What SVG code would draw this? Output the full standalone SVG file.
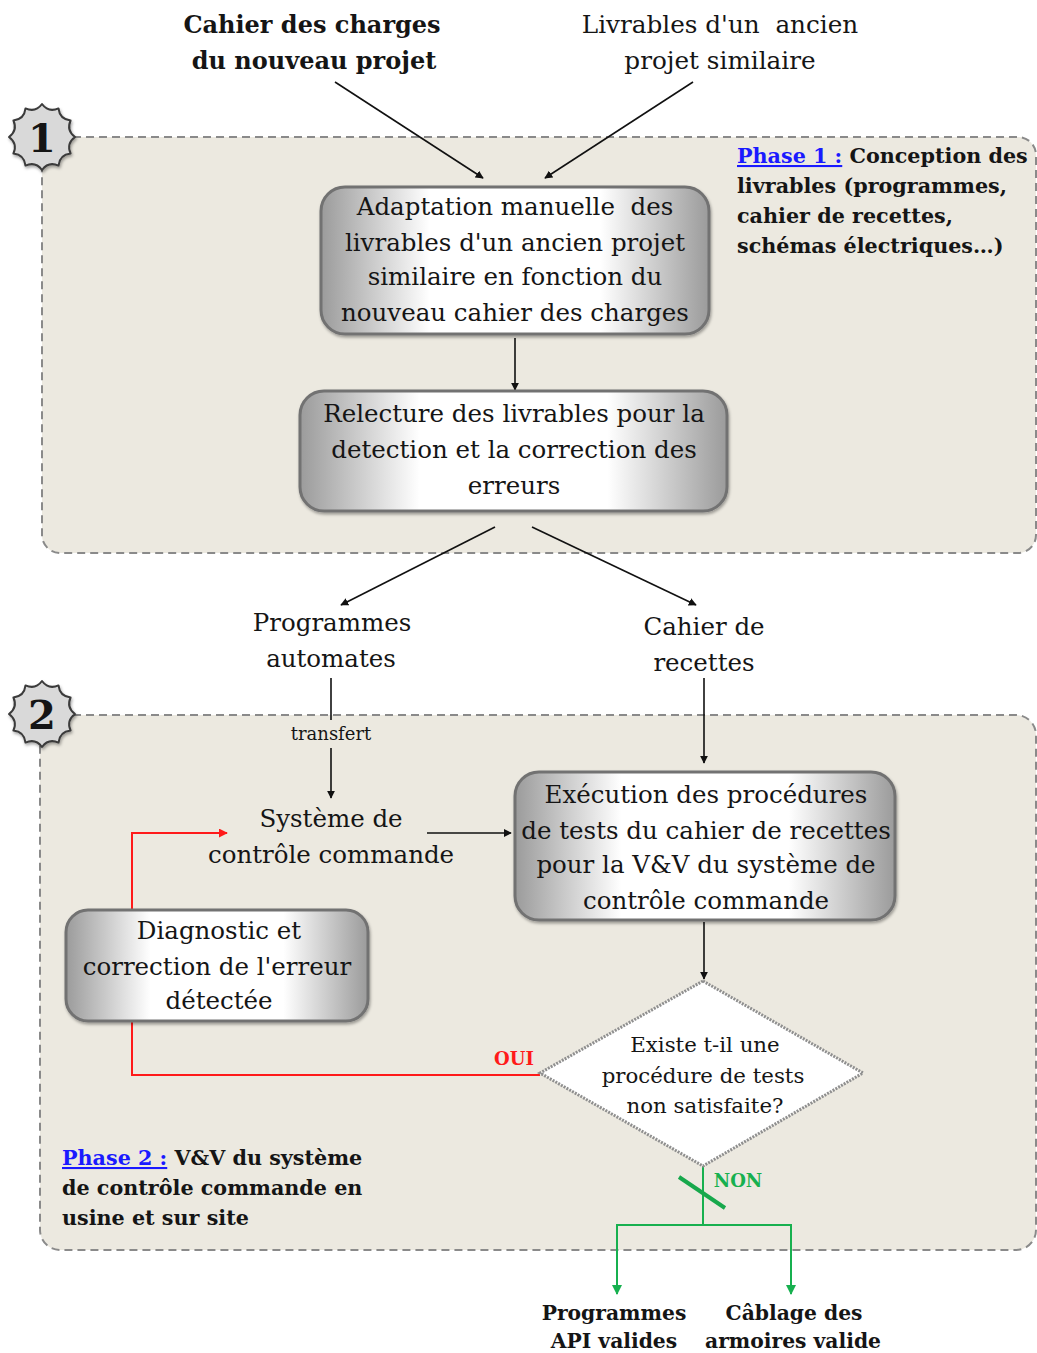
<svg xmlns="http://www.w3.org/2000/svg" width="1037" height="1353" viewBox="0 0 1037 1353">
  <style>
    .t { font-family: "DejaVu Serif", "Liberation Serif", serif; fill: #151515; text-anchor: middle; }
    .m { font-size: 24.5px; }
    .b { font-weight: bold; }
    .ph { font-family: "DejaVu Serif", "Liberation Serif", serif; font-weight: bold; font-size: 20.7px; fill: #151515; }
    .lnk { fill: #1a1aff; text-decoration: underline; }
    .region { fill: #ECE9E0; stroke: #8a8a8a; stroke-width: 2; stroke-dasharray: 8 5; }
    .box { fill: url(#boxGrad); stroke: #727272; stroke-width: 3; filter: url(#shadow); }
    .c { fill: none; stroke: #111; stroke-width: 1.6; }
    .red { fill: none; stroke: #ff1a1a; stroke-width: 2; }
    .grn { fill: none; stroke: #17b04f; stroke-width: 2; }
    .slash { stroke: #17a84c; stroke-width: 4; }
    .badge { fill: #d9d9d9; stroke: #3a3a3a; stroke-width: 2; stroke-linejoin: round; filter: url(#shadow); }
  </style>
  <defs>
    <linearGradient id="boxGrad" x1="0" y1="0" x2="1" y2="0">
      <stop offset="0" stop-color="#9b9b9b"/>
      <stop offset="0.28" stop-color="#ffffff"/>
      <stop offset="0.72" stop-color="#ffffff"/>
      <stop offset="1" stop-color="#9b9b9b"/>
    </linearGradient>
    <filter id="shadow" x="-10%" y="-10%" width="120%" height="130%">
      <feDropShadow dx="1" dy="2" stdDeviation="1.5" flood-color="#000" flood-opacity="0.35"/>
    </filter>
    <marker id="arrB" viewBox="0 0 10 10" refX="9" refY="5" markerWidth="8" markerHeight="8" markerUnits="userSpaceOnUse" orient="auto">
      <path d="M0,0 L10,5 L0,10 z" fill="#111"/>
    </marker>
    <marker id="arrR" viewBox="0 0 10 10" refX="9" refY="5" markerWidth="9" markerHeight="9" markerUnits="userSpaceOnUse" orient="auto">
      <path d="M0,0 L10,5 L0,10 z" fill="#ff1a1a"/>
    </marker>
    <marker id="arrG" viewBox="0 0 10 10" refX="9" refY="5" markerWidth="10" markerHeight="10" markerUnits="userSpaceOnUse" orient="auto">
      <path d="M0,0 L10,5 L0,10 z" fill="#17b04f"/>
    </marker>
    <path id="seal" d="M33,0 Q24.15,6.47 28.58,16.5 Q17.68,17.68 16.5,28.58 Q6.47,24.15 0,33 Q-6.47,24.15 -16.5,28.58 Q-17.68,17.68 -28.58,16.5 Q-24.15,6.47 -33,0 Q-24.15,-6.47 -28.58,-16.5 Q-17.68,-17.68 -16.5,-28.58 Q-6.47,-24.15 0,-33 Q6.47,-24.15 16.5,-28.58 Q17.68,-17.68 28.58,-16.5 Q24.15,-6.47 33,0 z"/>
  </defs>

  <rect width="1037" height="1353" fill="#ffffff"/>

  <!-- phase areas -->
  <rect id="phase1-area" class="region" x="42" y="137" width="994" height="416" rx="18"/>
  <rect id="phase2-area" class="region" x="40" y="715" width="996" height="535" rx="20"/>

  <!-- phase badges -->
  <g id="badge1">
    <use href="#seal" class="badge" transform="translate(42,137)"/>
    <text class="t b" x="42" y="152" font-size="40">1</text>
  </g>
  <g id="badge2">
    <use href="#seal" class="badge" transform="translate(42,714)"/>
    <text class="t b" x="42" y="729" font-size="40">2</text>
  </g>

  <!-- phase captions -->
  <g id="phase1-caption">
    <text class="ph" x="737" y="163"><tspan class="lnk">Phase 1 :</tspan> Conception des</text>
    <text class="ph" x="737" y="193">livrables (programmes,</text>
    <text class="ph" x="737" y="223">cahier de recettes,</text>
    <text class="ph" x="737" y="253">schémas électriques…)</text>
  </g>
  <g id="phase2-caption">
    <text class="ph" x="62" y="1165"><tspan class="lnk">Phase 2 :</tspan> V&amp;V du système</text>
    <text class="ph" x="62" y="1195">de contrôle commande en</text>
    <text class="ph" x="62" y="1225">usine et sur site</text>
  </g>

  <!-- connectors -->
  <g id="connectors">
    <line class="c" x1="335" y1="82" x2="483" y2="178" marker-end="url(#arrB)"/>
    <line class="c" x1="693" y1="82" x2="545" y2="178" marker-end="url(#arrB)"/>
    <line class="c" x1="515" y1="338" x2="515" y2="390" marker-end="url(#arrB)"/>
    <line class="c" x1="495" y1="527" x2="341" y2="605" marker-end="url(#arrB)"/>
    <line class="c" x1="532" y1="527" x2="696" y2="605" marker-end="url(#arrB)"/>
    <line class="c" x1="331" y1="678" x2="331" y2="720"/>
    <line class="c" x1="331" y1="748" x2="331" y2="798" marker-end="url(#arrB)"/>
    <line class="c" x1="704" y1="678" x2="704" y2="763" marker-end="url(#arrB)"/>
    <line class="c" x1="427" y1="833" x2="511" y2="833" marker-end="url(#arrB)"/>
    <line class="c" x1="704" y1="922" x2="704" y2="979" marker-end="url(#arrB)"/>
    <polyline class="red" points="540,1075 132,1075 132,1021"/>
    <polyline class="red" points="132,910 132,833 227,833" marker-end="url(#arrR)"/>
    <polyline class="grn" points="703,1166 703,1225"/>
    <polyline class="grn" points="617,1225 791,1225"/>
    <line class="grn" x1="617" y1="1224" x2="617" y2="1294" marker-end="url(#arrG)"/>
    <line class="grn" x1="791" y1="1224" x2="791" y2="1294" marker-end="url(#arrG)"/>
    <line class="slash" x1="679" y1="1177" x2="725" y2="1208"/>
    <text class="t" x="331" y="740" font-size="18">transfert</text>
    <text class="t b" x="514" y="1065" font-size="18" style="fill:#ff1a1a">OUI</text>
    <text class="t b" x="738" y="1187" font-size="18" style="fill:#17b04f">NON</text>
  </g>

  <!-- inputs -->
  <g id="cahier-des-charges">
    <text class="t b" x="312" y="33" font-size="24">Cahier des charges</text>
    <text class="t b" x="314" y="69" font-size="24">du nouveau projet</text>
  </g>
  <g id="livrables-ancien">
    <text class="t" x="720" y="33" font-size="24.7" xml:space="preserve">Livrables d'un  ancien</text>
    <text class="t" x="720" y="69" font-size="24.7">projet similaire</text>
  </g>

  <!-- phase 1 steps -->
  <g id="adaptation">
    <rect class="box" x="321" y="187" width="388" height="147" rx="24"/>
    <text class="t m" x="515" y="215" xml:space="preserve">Adaptation manuelle  des</text>
    <text class="t m" x="515" y="251">livrables d'un ancien projet</text>
    <text class="t m" x="515" y="285">similaire en fonction du</text>
    <text class="t m" x="515" y="321">nouveau cahier des charges</text>
  </g>
  <g id="relecture">
    <rect class="box" x="300" y="391" width="427" height="120" rx="24"/>
    <text class="t m" x="514" y="422">Relecture des livrables pour la</text>
    <text class="t m" x="514" y="458">detection et la correction des</text>
    <text class="t m" x="514" y="494">erreurs</text>
  </g>

  <!-- deliverables -->
  <g id="programmes-automates">
    <text class="t m" x="332" y="631">Programmes</text>
    <text class="t m" x="331" y="667">automates</text>
  </g>
  <g id="cahier-recettes">
    <text class="t m" x="704" y="635">Cahier de</text>
    <text class="t m" x="704" y="671">recettes</text>
  </g>

  <!-- phase 2 steps -->
  <g id="systeme">
    <text class="t m" x="331" y="827">Système de</text>
    <text class="t m" x="331" y="863">contrôle commande</text>
  </g>
  <g id="execution">
    <rect class="box" x="515" y="772" width="380" height="148" rx="24"/>
    <text class="t m" x="706" y="803">Exécution des procédures</text>
    <text class="t m" x="706" y="839">de tests du cahier de recettes</text>
    <text class="t m" x="706" y="873">pour la V&amp;V du système de</text>
    <text class="t m" x="706" y="909">contrôle commande</text>
  </g>
  <g id="diagnostic">
    <rect class="box" x="66" y="910" width="302" height="111" rx="22"/>
    <text class="t m" x="219" y="939">Diagnostic et</text>
    <text class="t m" x="217" y="975">correction de l'erreur</text>
    <text class="t m" x="219" y="1009">détectée</text>
  </g>
  <g id="decision">
    <polygon points="703,981 863,1073 703,1166 540,1073" fill="#ffffff" stroke="#8f8f8f" stroke-width="3" stroke-dasharray="2 1.2"/>
    <text class="t" x="705" y="1052" font-size="21.3">Existe t-il une</text>
    <text class="t" x="703" y="1083" font-size="21.3">procédure de tests</text>
    <text class="t" x="705" y="1113" font-size="21.3">non satisfaite?</text>
  </g>

  <!-- results -->
  <g id="programmes-api">
    <text class="t b" x="614" y="1320" font-size="20.3">Programmes</text>
    <text class="t b" x="614" y="1348" font-size="20.3">API valides</text>
  </g>
  <g id="cablage">
    <text class="t b" x="794" y="1320" font-size="20.3">Câblage des</text>
    <text class="t b" x="793" y="1348" font-size="20.3">armoires valide</text>
  </g>
</svg>
